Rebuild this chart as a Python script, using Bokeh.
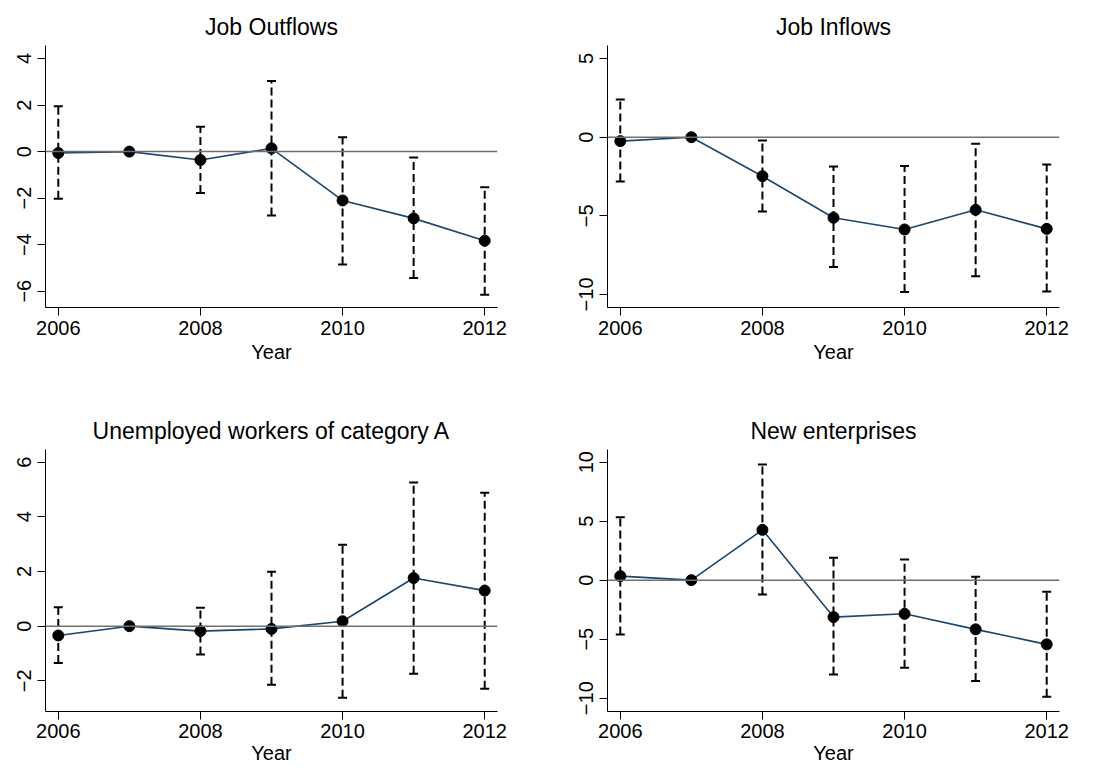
from bokeh.plotting import figure
from bokeh.layouts import column, row
from bokeh.models import ColumnDataSource, FixedTicker, Span, Range1d
from bokeh.embed import file_html
from bokeh.resources import INLINE

years = [2006, 2007, 2008, 2009, 2010, 2011, 2012]
ci_years = [2006, 2008, 2009, 2010, 2011, 2012]

titles = ["Job Outflows", "Job Inflows", "Unemployed workers of category A", "New enterprises"]

# point estimates
outflows = [-0.06, 0.0, -0.36, 0.14, -2.10, -2.87, -3.83]
inflows = [-0.25, 0.0, -2.48, -5.12, -5.87, -4.62, -5.83]
unemployed = [-0.34, 0.0, -0.18, -0.10, 0.18, 1.76, 1.30]
enterprises = [0.34, 0.0, 4.26, -3.13, -2.85, -4.17, -5.44]

# confidence intervals (2007 is the reference year, no interval)
outflows_lo = [-2.03, -1.78, -2.75, -4.85, -5.43, -6.15]
outflows_hi = [1.95, 1.07, 3.03, 0.62, -0.25, -1.53]
inflows_lo = [-2.82, -4.72, -8.26, -9.85, -8.84, -9.81]
inflows_hi = [2.40, -0.21, -1.87, -1.84, -0.42, -1.74]
unemployed_lo = [-1.35, -1.04, -2.14, -2.62, -1.74, -2.29]
unemployed_hi = [0.69, 0.67, 1.99, 2.98, 5.25, 4.88]
enterprises_lo = [-4.60, -1.21, -8.00, -7.42, -8.55, -9.87]
enterprises_hi = [5.33, 9.80, 1.90, 1.75, 0.28, -0.98]

x_ticks = [2006, 2008, 2010, 2012]
y_ticks = [[-6, -4, -2, 0, 2, 4], [-10, -5, 0, 5], [-2, 0, 2, 4, 6], [-10, -5, 0, 5, 10]]
y_ranges = [(-6.7, 4.56), (-10.83, 5.83), (-3.12, 6.46), (-11.13, 11.07)]

series = [
    (outflows, outflows_lo, outflows_hi),
    (inflows, inflows_lo, inflows_hi),
    (unemployed, unemployed_lo, unemployed_hi),
    (enterprises, enterprises_lo, enterprises_hi),
]

FONT = "Liberation Sans"
NAVY = "#1a476f"

def make_panel(i):
    est, lo, hi = series[i]
    top = i < 2
    left = i % 2 == 0
    w = 550 if left else 547
    h = 384
    p = figure(width=w, height=h, output_backend="svg", toolbar_location=None,
               x_range=Range1d(2005.82, 2012.18), y_range=Range1d(*y_ranges[i]),
               title=titles[i])
    p.min_border_left = 45 if left else 57
    p.min_border_right = 53 if left else 38
    p.min_border_top = 45 if top else 65
    p.min_border_bottom = 77 if top else 57
    p.outline_line_color = None
    p.background_fill_color = "white"
    p.border_fill_color = "white"
    p.xgrid.visible = False
    p.ygrid.visible = False

    p.title.align = "center"
    p.title.text_font = FONT
    p.title.text_font_size = "23px"
    p.title.text_font_style = "normal"
    p.title.text_color = "black"
    p.title.standoff = 11

    p.xaxis.ticker = FixedTicker(ticks=x_ticks)
    p.yaxis.ticker = FixedTicker(ticks=y_ticks[i])
    p.yaxis.major_label_overrides = {t: (("\u2212" + str(-t)) if t < 0 else str(t)) for t in y_ticks[i]}
    p.xaxis.axis_label = "Year"
    for ax in (p.xaxis, p.yaxis):
        ax.axis_line_color = "black"
        ax.axis_line_width = 1
        ax.major_tick_line_color = "black"
        ax.major_tick_out = 8
        ax.major_tick_in = 0
        ax.minor_tick_line_color = None
        ax.major_label_text_font = FONT
        ax.major_label_text_font_size = "20px"
        ax.major_label_text_color = "black"
        ax.axis_label_text_font = FONT
        ax.axis_label_text_font_size = "20px"
        ax.axis_label_text_font_style = "normal"
        ax.axis_label_text_color = "black"
    p.xaxis.major_label_standoff = 5 if top else 4
    p.xaxis.axis_label_standoff = 3 if top else 1
    p.yaxis.major_label_orientation = "vertical"
    p.yaxis.major_label_standoff = 6

    p.add_layout(Span(location=0, dimension="width", line_color="#707070", line_width=1.5))

    ci = ColumnDataSource(dict(x=ci_years, lo=lo, hi=hi))
    p.segment(x0="x", y0="lo", x1="x", y1="hi", source=ci, line_color="black",
              line_width=2, line_dash="8 4")
    p.scatter(x="x", y="lo", source=ci, marker="dash", size=9, line_color="black", line_width=2)
    p.scatter(x="x", y="hi", source=ci, marker="dash", size=9, line_color="black", line_width=2)

    src = ColumnDataSource(dict(x=years, y=est))
    p.line(x="x", y="y", source=src, line_color=NAVY, line_width=1.6)
    p.scatter(x="x", y="y", source=src, marker="circle", size=11, fill_color="black",
              line_color="black")
    return p

panels = [make_panel(i) for i in range(4)]
layout = column(row(panels[0], panels[1]), row(panels[2], panels[3]))

open("out.html", "w").write(file_html(layout, INLINE))
